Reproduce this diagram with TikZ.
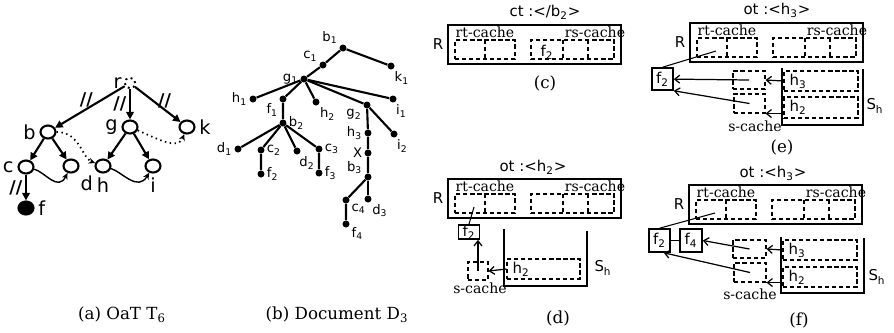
\documentclass[tikz,border=0pt]{standalone}
\usepackage{fontspec}
\setmainfont{DejaVu Serif}
\setsansfont{DejaVu Sans}
\usepackage{tikz}
\usetikzlibrary{arrows.meta, shapes.geometric, positioning, calc}
\newcommand{\sbs}[1]{\textsubscript{#1}}

\begin{document}
\begin{tikzpicture}[x=0.2mm, y=-0.2mm,
  onode/.style={draw, ellipse, line width=1.2pt, minimum width=3mm, minimum height=2.6mm, inner sep=0pt},
  leaf/.style={onode, fill=black},
  root/.style={draw, circle, dotted, line width=1.1pt, minimum size=2.1mm, inner sep=0pt},
  bdot/.style={circle, fill=black, minimum size=1.4mm, inner sep=0pt},
  lbla/.style={font=\sffamily\fontsize{11}{13}\selectfont, inner sep=2pt},
  lblb/.style={font=\sffamily\fontsize{7.5}{9}\selectfont, inner sep=1pt},
  ttl/.style={font=\sffamily\fontsize{8.5}{10}\selectfont},
  cch/.style={font=\fontsize{8}{9.5}\selectfont, inner sep=0pt},
  captxt/.style={font=\fontsize{9.5}{11}\selectfont},
  slash/.style={font=\sffamily\bfseries\fontsize{10}{10}\selectfont, inner sep=0.5pt},
  tarr/.style={-{Triangle[length=1.5mm, width=1.5mm]}, line width=1.2pt},
  carr/.style={-{Stealth[length=1.3mm, width=1.2mm]}, line width=0.8pt},
  darr/.style={carr, dotted, line width=1pt},
  tline/.style={line width=1.2pt},
  rbox/.style={draw, line width=0.9pt, anchor=north west, minimum width=34.6mm, minimum height=7.8mm, inner sep=0pt},
  cline/.style={dash pattern=on 2.4pt off 1.6pt, line width=0.6pt},
  cell/.style={draw, cline, minimum height=3.8mm, inner sep=0pt},
  fbx/.style={draw, line width=0.9pt, minimum width=4.2mm, inner sep=0pt, font=\sffamily\fontsize{8.5}{10}\selectfont},
  bucket/.style={line width=1.3pt},
  sarr/.style={-{Straight Barb[length=1mm, width=1.6mm]}, line width=0.7pt},
  rpanel/.pic={
    \node[rbox] (-box) at (0,0) {};
    \node[ttl, left, inner sep=2pt] (-R) at (-box.west) {R};
    \node[cch] (-rtl) at (38,8) {rt-cache};
    \node[cch] (-rsl) at (148,8) {rs-cache};
    \node[cell, minimum width=12mm] (-rt) at (38,25.5) {};
    \node[cell, minimum width=16.6mm] (-rs) at (125.5,25.5) {};
    \draw[cline] (-rt.north) -- (-rt.south);
    \draw[cline] (116,16) -- (116,35);
    \draw[cline] (141,16) -- (141,35);
    \coordinate (-p) at (27,29);
  }
]
  \useasboundingbox (0,0) rectangle (894,332);

  \node[root, label={[lbla, inner sep=1pt]left:r}] (r) at (130,83) {};
  \node[onode, label={[lbla]left:b}] (b) at (48,132) {};
  \node[onode, label={[lbla]left:g}] (g) at (130,127) {};
  \node[onode, label={[lbla]right:k}] (k) at (187,127) {};
  \node[onode, label={[lbla]left:c}] (c) at (26,167) {};
  \node[onode, label={[lbla]below right:d}] (d) at (71,166) {};
  \node[onode, label={[lbla]below:h}] (h) at (103,166) {};
  \node[onode, label={[lbla]below:i}] (i) at (153,166) {};
  \node[leaf, label={[lbla]right:f}] (f) at (26,208) {};

  \draw[tarr] (r) -- node[slash, above, pos=.55] {//} (b);
  \draw[tarr] (r) -- node[slash, left=1pt] {//} (g);
  \draw[tarr] (r) -- node[slash, above, pos=.65] {//} (k);
  \draw[tarr] (b) -- (c);
  \draw[tarr] (b) -- (d);
  \draw[tarr] (g) -- (h);
  \draw[tarr] (g) -- (i);
  \draw[tarr] (c) -- node[slash, left=1pt] {//} (f);
  \draw[carr] (c) .. controls (45,172) and (58,192) .. (d);
  \draw[carr] (h) .. controls (122,172) and (138,192) .. (i);
  \draw[darr] (b) .. controls (80,132) and (82,158) .. (h);
  \draw[darr] (g) .. controls (160,140) and (178,150) .. (k);
  \node[captxt] (capa) at (122,315) {(a) OaT T\sbs{6}};

  \node[bdot, label={[lblb]150:b\sbs{1}}] (b1) at (343,48) {};
  \node[bdot, label={[lblb]-65:k\sbs{1}}] (k1) at (391,66) {};
  \node[bdot, label={[lblb]155:c\sbs{1}}] (c1) at (323,65) {};
  \node[bdot, label={[lblb]left:g\sbs{1}}] (g1) at (304,79) {};
  \node[bdot, label={[lblb]left:h\sbs{1}}] (h1) at (253,99) {};
  \node[bdot, label={[lblb]220:f\sbs{1}}] (f1) at (283,99) {};
  \node[bdot, label={[lblb]-60:h\sbs{2}}] (h2) at (316,102) {};
  \node[bdot, label={[lblb]-75:i\sbs{1}}] (i1) at (393,99) {};
  \node[bdot, label={[lblb]210:g\sbs{2}}] (g2) at (367,105) {};
  \node[bdot, label={[lblb]right:b\sbs{2}}] (b2) at (283,123) {};
  \node[bdot, label={[lblb]left:h\sbs{3}}] (h3) at (368,133) {};
  \node[bdot, label={[lblb]-75:i\sbs{2}}] (i2) at (394,134) {};
  \node[bdot, label={[lblb]left:X}] (x) at (368,153) {};
  \node[bdot, label={[lblb]left:d\sbs{1}}] (d1) at (238,149) {};
  \node[bdot, label={[lblb]right:c\sbs{2}}] (c2) at (261,150) {};
  \node[bdot, label={[lblb]-85:d\sbs{2}}] (d2) at (297,151) {};
  \node[bdot, label={[lblb]right:c\sbs{3}}] (c3) at (319,149) {};
  \node[bdot, label={[lblb]right:f\sbs{2}}] (f2) at (261,174) {};
  \node[bdot, label={[lblb]right:f\sbs{3}}] (f3) at (319,173) {};
  \node[bdot, label={[lblb]165:b\sbs{3}}] (b3) at (368,177) {};
  \node[bdot, label={[lblb]-25:c\sbs{4}}] (c4) at (346,200) {};
  \node[bdot, label={[lblb]-55:d\sbs{3}}] (d3) at (368,199) {};
  \node[bdot, label={[lblb]-20:f\sbs{4}}] (f4) at (346,224) {};

  \draw[tline] (b1) -- (k1);
  \draw[tline] (b1) -- (c1) -- (g1);
  \draw[tline] (g1) -- (h1);
  \draw[tline] (g1) -- (f1) -- (b2);
  \draw[tline] (g1) -- (h2);
  \draw[tline] (g1) -- (g2);
  \draw[tline] (g1) -- (i1);
  \draw[tline] (b2) -- (d1);
  \draw[tline] (b2) -- (c2) -- (f2);
  \draw[tline] (b2) -- (d2);
  \draw[tline] (b2) -- (c3) -- (f3);
  \draw[tline] (g2) -- (h3) -- (x) -- (b3);
  \draw[tline] (g2) -- (i2);
  \draw[tline] (b3) -- (c4) -- (f4);
  \draw[tline] (b3) -- (d3);
  \node[captxt] (capb) at (337,315) {(b) Document D\sbs{3}};

  \node[ttl] (ctt) at (545,12) {ct :</b\sbs{2}>};
  \pic (pc) at (447,24) {rpanel};
  \node[ttl] (cf2) at (547,52) {f\sbs{2}};
  \node[captxt] (capc) at (545,83) {(c)};

  \node[ttl] (dtt) at (533,167) {ot :<h\sbs{2}>};
  \pic (pd) at (447,178) {rpanel};
  \node[fbx, minimum height=2.8mm] (df2) at (469,232) {f\sbs{2}};
  \draw[bucket] (504,229) -- (504,286) -- (587,286) -- (587,231);
  \node[cell, minimum width=14.6mm, minimum height=4mm] (dh2) at (543.5,269) {};
  \node[ttl, right] (dh2t) at (dh2.west) {h\sbs{2}};
  \node[ttl] (dsh) at (603,268) {S\sbs{h}};
  \node[cell, minimum width=4mm, minimum height=3.6mm] (ds) at (478,271) {};
  \node[cch] (dsl) at (480,288) {s-cache};
  \draw[sarr] (dh2.west) -- (ds.east);
  \draw[sarr] (ds.center) -- (ds.center |- df2.south);
  \draw[line width=0.6pt] (pd-p) -- (df2.north);
  \node[captxt] (capd) at (558,318) {(d)};

  \node[ttl] (ett) at (777,10) {ot :<h\sbs{3}>};
  \pic (pe) at (689,22) {rpanel};
  \node[fbx, minimum height=4.4mm] (ef2) at (662.5,79) {f\sbs{2}};
  \draw[bucket] (782,68) -- (782,125) -- (863,125) -- (863,69);
  \node[cell, minimum width=14.8mm, minimum height=4mm] (eh3) at (821,81) {};
  \node[cell, minimum width=14.8mm, minimum height=4.2mm] (eh2) at (821,107.5) {};
  \node[ttl, right] (eh3t) at (eh3.west) {h\sbs{3}};
  \node[ttl, right] (eh2t) at (eh2.west) {h\sbs{2}};
  \node[ttl] (esh) at (875,106) {S\sbs{h}};
  \node[cell, minimum width=6.4mm, minimum height=3.6mm] (es1) at (749,80) {};
  \node[cell, minimum width=6.2mm, minimum height=3.8mm] (es2) at (749.5,103.5) {};
  \node[cch] (esl) at (755,126) {s-cache};
  \draw[sarr] (eh3.west) -- (es1.east);
  \draw[sarr] (eh2.west |- es2.south) -- (es2.south east);
  \draw[sarr] (es1.center) -- (ef2);
  \draw[sarr] (es2.center) -- (ef2.south east);
  \draw[line width=0.6pt] (pe-p) -- (ef2.north);
  \node[captxt] (cape) at (782,147) {(e)};

  \node[ttl] (ftt) at (773,173) {ot :<h\sbs{3}>};
  \pic (pf) at (688,184) {rpanel};
  \node[fbx, minimum height=4.6mm] (ff2) at (659.5,240.5) {f\sbs{2}};
  \node[fbx, minimum width=4.4mm, minimum height=4.6mm] (ff4) at (691,240.5) {f\sbs{4}};
  \draw[line width=0.9pt] (ff2) -- (ff4);
  \draw[bucket] (781,237) -- (781,293) -- (864,293) -- (864,238);
  \node[cell, minimum width=14.8mm, minimum height=4mm] (fh3) at (820,250) {};
  \node[cell, minimum width=14.8mm, minimum height=4mm] (fh2) at (820,277) {};
  \node[ttl, right] (fh3t) at (fh3.west) {h\sbs{3}};
  \node[ttl, right] (fh2t) at (fh2.west) {h\sbs{2}};
  \node[ttl] (fsh) at (877,277) {S\sbs{h}};
  \node[cell, minimum width=6.6mm, minimum height=3.6mm] (fs1) at (749.5,249) {};
  \node[cell, minimum width=6.4mm, minimum height=3.8mm] (fs2) at (750,272.5) {};
  \node[cch] (fsl) at (750,294) {s-cache};
  \draw[sarr] (fh3.west) -- (fs1.east);
  \draw[sarr] (fh2.west |- fs2.south) -- (fs2.south east);
  \draw[sarr] (fs1.center) -- (ff4.east);
  \draw[sarr] (fs2.center) -- ([xshift=-1.4mm]ff2.south east);
  \draw[line width=0.6pt] (pf-p) -- (ff2.north);
  \node[captxt] (capf) at (799,320) {(f)};
\end{tikzpicture}
\end{document}
